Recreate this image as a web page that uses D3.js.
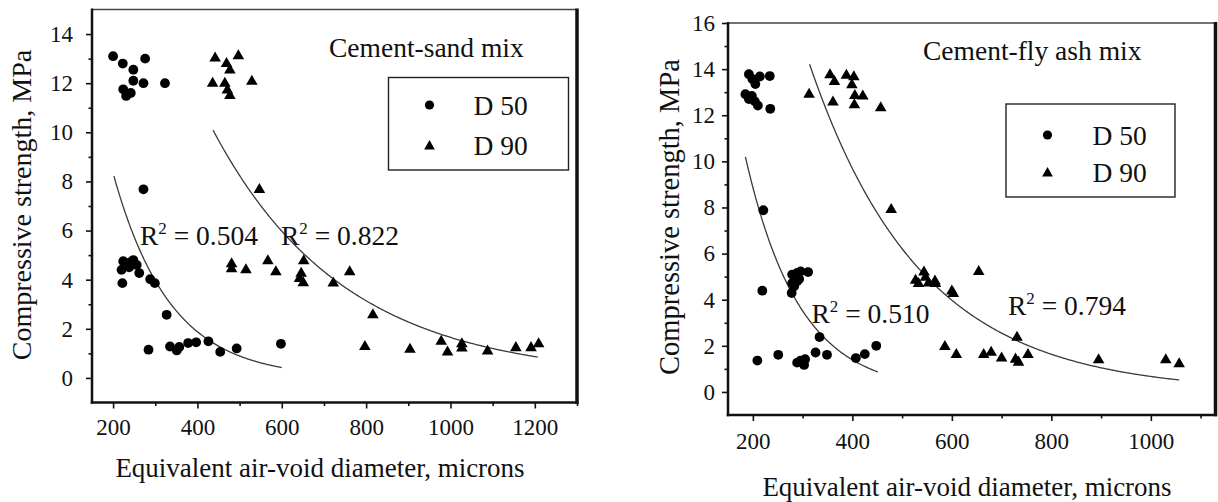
<!DOCTYPE html>
<html>
<head>
<meta charset="utf-8">
<script src="https://cdn.jsdelivr.net/npm/d3@7"></script>
<style>
  body { margin: 0; background: #fff; }
  svg text { font-family: "Liberation Serif", "Times New Roman", Times, serif !important; fill: #111; }
</style>
</head>
<body>
<svg id="chart" width="1218" height="502"></svg>
<script>
// ---- Cement-sand mix: equivalent air-void diameter (microns) vs strength (MPa)
const sandD50x = [200, 223, 276, 248, 248, 272, 323, 224, 242, 231,
                  272,
                  224, 248, 220, 238, 256, 262, 240, 222, 288, 299, 327,
                  284, 335, 351, 357, 378, 397, 426, 454, 493, 598];
const sandD50y = [13.1, 12.8, 13.0, 12.55, 12.1, 12.0, 12.0, 11.75, 11.6, 11.48,
                  7.68,
                  4.75, 4.8, 4.4, 4.5, 4.6, 4.27, 4.7, 3.86, 4.02, 3.86, 2.57,
                  1.15, 1.28, 1.12, 1.26, 1.42, 1.45, 1.49, 1.06, 1.2, 1.39];
const sandD90x = [442, 497, 469, 477, 436, 465, 529, 471, 477,
                  547,
                  481, 481, 515, 567, 586, 652, 646, 642, 651, 722, 761,
                  816, 797, 904, 978, 993, 1027, 1027, 1088, 1155, 1191, 1209];
const sandD90y = [13.05, 13.14, 12.83, 12.56, 12.02, 12.02, 12.1, 11.75, 11.52,
                  7.7,
                  4.67, 4.47, 4.43, 4.8, 4.35, 4.8, 4.29, 4.07, 3.9, 3.89, 4.35,
                  2.6, 1.31, 1.19, 1.52, 1.08, 1.42, 1.24, 1.12, 1.26, 1.26, 1.42];

// ---- Cement-fly ash mix
const flyD50x = [192, 214, 234, 199, 205, 185, 198, 192, 204, 210, 235,
                 221,
                 219, 279, 289, 296, 311, 279, 289, 293, 283, 278,
                 334, 209, 251, 289, 296, 303, 305, 326, 349, 407, 425, 448];
const flyD50y = [13.78, 13.68, 13.7, 13.57, 13.35, 12.91, 12.84, 12.7, 12.6, 12.42, 12.28,
                 7.88,
                 4.39, 5.09, 5.16, 5.23, 5.2, 4.72, 4.8, 4.9, 4.58, 4.29,
                 2.38, 1.36, 1.61, 1.27, 1.36, 1.17, 1.42, 1.71, 1.61, 1.47, 1.64, 2.0];
const flyD90x = [313, 355, 364, 388, 403, 399, 361, 405, 421, 404, 457,
                 478,
                 527, 533, 544, 547, 553, 566, 567, 600, 603, 654,
                 731, 586, 609, 664, 679, 700, 728, 734, 753, 895, 1030, 1057];
const flyD90y = [12.94, 13.78, 13.49, 13.76, 13.7, 13.35, 12.6, 12.88, 12.86, 12.48, 12.35,
                 7.94,
                 4.87, 4.73, 5.23, 5.0, 4.75, 4.84, 4.73, 4.4, 4.3, 5.25,
                 2.4, 2.0, 1.65, 1.65, 1.75, 1.5, 1.45, 1.32, 1.65, 1.42, 1.42, 1.25];

// Exponential trend lines y = a * exp(-b * x), drawn over [from, to]
const sandD50Trend = [37.0, 0.00745, 202, 600];
const sandD90Trend = [41.1, 0.003214, 437, 1207];
const flyD50Trend  = [56.5, 0.009256, 185, 451];
const flyD90Trend  = [57.5, 0.004451, 314, 1057];

// Tick values
const sandXTicks = [200, 400, 600, 800, 1000, 1200];
const sandXMinor = [300, 500, 700, 900, 1100, 1300];
const sandYTicks = [0, 2, 4, 6, 8, 10, 12, 14];
const sandYMinor = [1, 3, 5, 7, 9, 11, 13];
const flyXTicks = [200, 400, 600, 800, 1000];
const flyXMinor = [300, 500, 700, 900, 1100];
const flyYTicks = [0, 2, 4, 6, 8, 10, 12, 14, 16];
const flyYMinor = [1, 3, 5, 7, 9, 11, 13, 15];

const FONT = '"Liberation Serif", "Times New Roman", serif';
const svg = d3.select("#chart");

function drawPanel(p) {
  const x = d3.scaleLinear().domain(p.xDomain).range([p.left, p.right]);
  const y = d3.scaleLinear().domain(p.yDomain).range([p.bottom, p.top]);
  const g = svg.append("g").attr("font-family", FONT);

  // axes: major ticks with labels, minor ticks without
  g.append("g").attr("transform", `translate(${p.left},0)`)
    .call(d3.axisLeft(y).tickValues(p.yTicks).tickSize(6).tickPadding(p.yPad).tickFormat(d3.format("d")));
  g.append("g").attr("transform", `translate(${p.left},0)`)
    .call(d3.axisLeft(y).tickValues(p.yMinor).tickSize(3.5).tickFormat(""));
  g.append("g").attr("transform", `translate(0,${p.bottom})`)
    .call(d3.axisBottom(x).tickValues(p.xTicks).tickSize(6).tickPadding(p.xPad).tickFormat(d3.format("d")));
  g.append("g").attr("transform", `translate(0,${p.bottom})`)
    .call(d3.axisBottom(x).tickValues(p.xMinor).tickSize(3.5).tickFormat(""));
  g.selectAll("g").attr("font-family", FONT);
  g.selectAll(".domain").remove();
  g.selectAll(".tick line").attr("stroke", "#111").attr("stroke-width", 1.6);
  g.selectAll(".tick text").attr("font-size", 23).attr("fill", "#111");

  // frame
  const frame = g.append("g").attr("stroke", "#111").attr("fill", "none");
  frame.append("line").attr("x1", p.left).attr("x2", p.right).attr("y1", p.top).attr("y2", p.top)
    .attr("stroke", "#444").attr("stroke-width", 1.5);
  frame.append("line").attr("x1", p.left).attr("x2", p.left).attr("y1", p.top - 1).attr("y2", p.bottom + 1.25)
    .attr("stroke-width", 2.5);
  frame.append("line").attr("x1", p.left - 1.25).attr("x2", p.right + 1.5).attr("y1", p.bottom).attr("y2", p.bottom)
    .attr("stroke-width", 2.5);
  frame.append("line").attr("x1", p.right).attr("x2", p.right).attr("y1", p.top - 1).attr("y2", p.bottom + 1.25)
    .attr("stroke-width", 3.5);

  // trend lines
  const line = d3.line().x(d => x(d[0])).y(d => y(d[1]));
  p.trends.forEach(t => {
    const [a, b, from, to] = t;
    const pts = d3.range(from, to, 2).concat([to]).map(v => [v, a * Math.exp(-b * v)]);
    g.append("path").attr("d", line(pts)).attr("fill", "none")
      .attr("stroke", "#3a3a3a").attr("stroke-width", 1.3);
  });

  // markers
  const tri = d3.symbol(d3.symbolTriangle, 58);
  g.append("g").selectAll("circle").data(d3.zip(p.d50x, p.d50y)).join("circle")
    .attr("cx", d => x(d[0])).attr("cy", d => y(d[1])).attr("r", 4.9).attr("fill", "#000");
  g.append("g").selectAll("path").data(d3.zip(p.d90x, p.d90y)).join("path")
    .attr("d", tri).attr("transform", d => `translate(${x(d[0])},${y(d[1]) + 0.8})`).attr("fill", "#000");

  // legend
  const L = p.legend;
  g.append("rect").attr("x", L.x).attr("y", L.y).attr("width", L.w).attr("height", L.h)
    .attr("fill", "#fff").attr("stroke", "#222").attr("stroke-width", 1.4);
  g.append("circle").attr("cx", L.mx).attr("cy", L.r1).attr("r", 4.6).attr("fill", "#000");
  g.append("path").attr("d", d3.symbol(d3.symbolTriangle, 50)).attr("transform", `translate(${L.mx},${L.r2 + 0.8})`).attr("fill", "#000");
  g.append("text").attr("x", L.tx).attr("y", L.r1 + 9.5).attr("font-size", 27.5).text("D 50");
  g.append("text").attr("x", L.tx).attr("y", L.r2 + 9.5).attr("font-size", 27.5).text("D 90");

  // panel title
  g.append("text").attr("x", p.title.x).attr("y", p.title.y).attr("font-size", 27.5).text(p.title.text);

  // R-squared annotations
  p.r2.forEach(r => {
    const t = g.append("text").attr("x", r.x).attr("y", r.y).attr("font-size", 27.5);
    t.append("tspan").text("R");
    t.append("tspan").attr("font-size", 17).attr("dy", -11).text("2");
    t.append("tspan").attr("dy", 11).text(" = " + r.v);
  });

  // axis titles
  g.append("text").attr("x", p.xTitle.x).attr("y", p.xTitle.y).attr("text-anchor", "middle")
    .attr("font-size", 27).text("Equivalent air-void diameter, microns");
  g.append("text").attr("transform", `translate(${p.yTitle.x},${p.yTitle.y}) rotate(-90)`)
    .attr("text-anchor", "middle").attr("font-size", p.yTitle.size).text("Compressive strength, MPa");
}

drawPanel({
  xDomain: [150, 1300], yDomain: [-1, 15],
  left: 92, right: 577, top: 9.5, bottom: 402.5,
  xTicks: sandXTicks, xMinor: sandXMinor, yTicks: sandYTicks, yMinor: sandYMinor,
  yPad: 13, xPad: 10,
  d50x: sandD50x, d50y: sandD50y, d90x: sandD90x, d90y: sandD90y,
  trends: [sandD50Trend, sandD90Trend],
  legend: { x: 388.5, y: 77.5, w: 180, h: 92.5, mx: 429.5, r1: 105, r2: 145.5, tx: 473.5 },
  title: { x: 329, y: 57, text: "Cement-sand mix" },
  r2: [{ x: 140, y: 245, v: "0.504" }, { x: 281, y: 245, v: "0.822" }],
  xTitle: { x: 320, y: 477 },
  yTitle: { x: 31, y: 205, size: 28 }
});

drawPanel({
  xDomain: [150, 1130], yDomain: [-1, 16],
  left: 728, right: 1215.5, top: 23, bottom: 415,
  xTicks: flyXTicks, xMinor: flyXMinor, yTicks: flyYTicks, yMinor: flyYMinor,
  yPad: 7, xPad: 12,
  d50x: flyD50x, d50y: flyD50y, d90x: flyD90x, d90y: flyD90y,
  trends: [flyD50Trend, flyD90Trend],
  legend: { x: 1006, y: 104, w: 169, h: 93, mx: 1047.5, r1: 135, r2: 172.5, tx: 1092.5 },
  title: { x: 923, y: 60, text: "Cement-fly ash mix" },
  r2: [{ x: 811.5, y: 323, v: "0.510" }, { x: 1008, y: 315, v: "0.794" }],
  xTitle: { x: 967, y: 496 },
  yTitle: { x: 679, y: 217, size: 28.5 }
});
</script>
</body>
</html>
